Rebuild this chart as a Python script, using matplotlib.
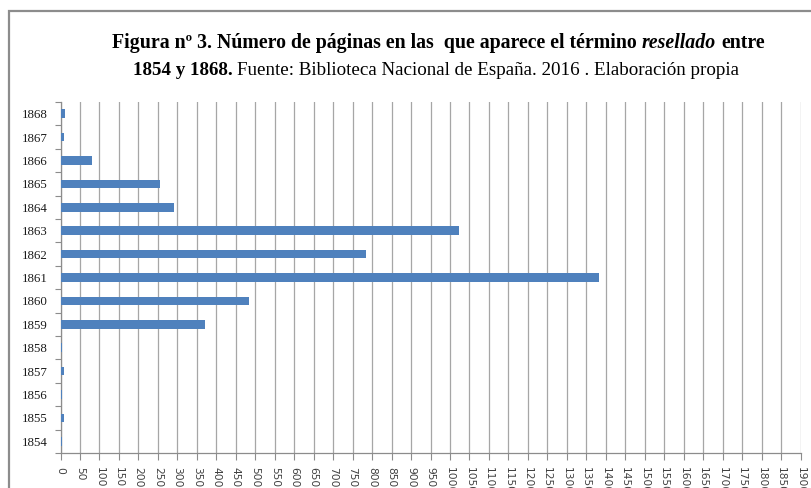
import matplotlib
matplotlib.use("Agg")
import matplotlib.pyplot as plt
from matplotlib.patches import Rectangle
import numpy as np

years = [1854, 1855, 1856, 1857, 1858, 1859, 1860, 1861, 1862, 1863, 1864, 1865, 1866, 1867, 1868]
pages = [3, 8, 4, 8, 4, 372, 485, 1382, 784, 1024, 291, 255, 82, 8, 12]
x_ticks = list(range(0, 1901, 50))

title_line1 = [("Figura nº 3. Número de páginas en las  que aparece el término", "bold", "normal"),
               ("resellado", "bold", "italic"),
               ("entre", "bold", "normal")]
title_line2 = [("1854 y 1868.", "bold", "normal"),
               ("Fuente: Biblioteca Nacional de España. 2016 . Elaboración propia", "normal", "normal")]

W, H = 811, 488
fig = plt.figure(figsize=(W / 100, H / 100), dpi=100)
fig.patch.set_facecolor("white")

# outer chart border (runs off the picture on right and bottom)
fig.patches.append(Rectangle((9 / W, -0.1), 1.2, 1 - 11 / H + 0.1, transform=fig.transFigure,
                             fill=False, edgecolor="#8c8c8c", linewidth=1.6))

ax = fig.add_axes([60.5 / W, 1 - 453 / H, 740 / W, 351 / H])
pos = np.arange(len(years))
ax.barh(pos, pages, height=0.36, color="#4f81bd", zorder=3)

ax.set_xlim(0, 1900)
ax.set_ylim(-0.5, len(years) - 0.5)
ax.set_xticks(x_ticks)
ax.set_xticklabels([str(v) for v in x_ticks], rotation=-90, fontsize=7.7,
                   color="#404040", family="DejaVu Sans")
ax.tick_params(axis="x", length=5, width=0.8, color="#8c8c8c", pad=5)
ax.xaxis.grid(True, color="#a6a6a6", linewidth=0.9, zorder=0)

ax.set_yticks(pos)
ax.set_yticklabels([str(y) for y in years], fontsize=9.3, family="Liberation Serif", color="#1a1a1a")
ax.set_yticks(np.arange(-0.5, len(years), 1), minor=True)
ax.tick_params(axis="y", which="major", length=0, pad=9.5)
ax.tick_params(axis="y", which="minor", length=4, width=0.8, color="#8c8c8c")

for s in ["top", "right"]:
    ax.spines[s].set_visible(False)
for s in ["left", "bottom"]:
    ax.spines[s].set_color("#8c8c8c")
    ax.spines[s].set_linewidth(0.9)


def put_runs(runs, y_px, cx_px, target_w):
    r = fig.canvas.get_renderer()
    fs = 12
    for _ in range(2):
        texts = []
        for s, w, st in runs:
            t = fig.text(0, 1 - y_px / H, s, fontsize=fs, fontweight=w, fontstyle=st,
                         family="Liberation Serif", va="baseline", ha="left", color="black")
            texts.append(t)
        widths = [t.get_window_extent(r).width for t in texts]
        gap = fs * 100 / 72 * 0.25
        total = sum(widths) + gap * (len(texts) - 1)
        if _ == 0:
            for t in texts:
                t.remove()
            fs = fs * target_w / total
            continue
        x = cx_px - total / 2
        for t, w in zip(texts, widths):
            t.set_x(x / W)
            x += w + gap


put_runs(title_line1, 48, 438.5, 648)
put_runs(title_line2, 75, 436, 608)

fig.savefig("out.png", dpi=100)
